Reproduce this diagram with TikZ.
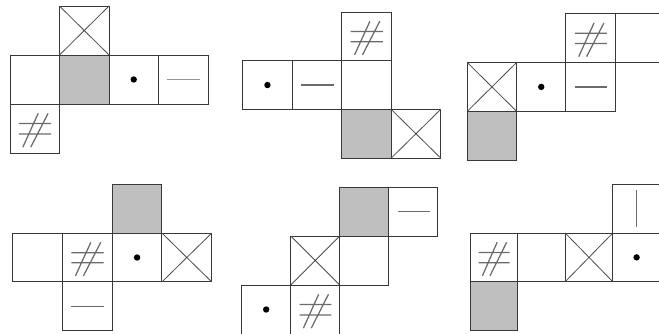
\documentclass[tikz,border=0pt]{standalone}
\begin{document}
\begin{tikzpicture}[x=1pt,y=-1pt,
  cellbox/.style={draw=black!78,line width=1pt,inner sep=0pt,outer sep=0pt,anchor=north west},
  grayface/.style={cellbox,fill=black!25},
  crossline/.style={draw=black!70,line width=0.8pt},
  markline/.style={draw=black!58,line width=1.25pt},
  lightmark/.style={draw=black!42,line width=1.25pt}]
\useasboundingbox (0,0) rectangle (659,333);
\newcommand\cellat[3]{\node[cellbox] (#1) at (#2,#3) {};}
\newcommand\grayat[3]{\node[grayface] (#1) at (#2,#3) {};}
\newcommand\crossat[3]{\node[cellbox] (#1) at (#2,#3) {};
  \draw[crossline] (#2,#3) -- (#2+1,#3+1) (#2+1,#3) -- (#2,#3+1);}
\newcommand\dotat[3]{\node[cellbox] (#1) at (#2,#3) {};
  \fill[black] (#2+0.5,#3+0.5) circle[radius=3.2pt];}
\newcommand\dashat[4][markline]{\node[cellbox] (#2) at (#3,#4) {};
  \draw[#1] (#3+0.18,#4+0.5) -- (#3+0.84,#4+0.5);}
\newcommand\vbarat[3]{\node[cellbox] (#1) at (#2,#3) {};
  \draw[markline] (#2+0.5,#3+0.12) -- (#2+0.5,#3+0.87);}
\newcommand\hashat[3]{\node[cellbox] (#1) at (#2,#3) {};
  \draw[markline] (#2+0.18,#3+0.40) -- (#2+0.83,#3+0.40)
                  (#2+0.18,#3+0.61) -- (#2+0.83,#3+0.61)
                  (#2+0.26,#3+0.88) -- (#2+0.57,#3+0.19)
                  (#2+0.42,#3+0.88) -- (#2+0.77,#3+0.19);}
% Figure 1
\begin{scope}[shift={(10,6)},x=49.5pt,y=-49pt,
  every node/.append style={minimum width=49.5pt,minimum height=49pt}]
  \crossat{a1}{1}{0}
  \cellat{a2}{0}{1}
  \grayat{a3}{1}{1}
  \dotat{a4}{2}{1}
  \dashat[lightmark]{a5}{3}{1}
  \hashat{a6}{0}{2}
\end{scope}
% Figure 2
\begin{scope}[shift={(242.7,12)},x=49.5pt,y=-48.7pt,
  every node/.append style={minimum width=49.5pt,minimum height=48.7pt}]
  \hashat{b1}{2}{0}
  \dotat{b2}{0}{1}
  \dashat{b3}{1}{1}
  \cellat{b4}{2}{1}
  \grayat{b5}{2}{2}
  \crossat{b6}{3}{2}
\end{scope}
% Figure 3
\begin{scope}[shift={(467.3,13.7)},x=49.3pt,y=-48.8pt,
  every node/.append style={minimum width=49.3pt,minimum height=48.8pt}]
  \hashat{c1}{2}{0}
  \cellat{c2}{3}{0}
  \crossat{c3}{0}{1}
  \dotat{c4}{1}{1}
  \dashat{c5}{2}{1}
  \grayat{c6}{0}{2}
\end{scope}
% Figure 4
\begin{scope}[shift={(12.7,184.3)},x=49.75pt,y=-48.8pt,
  every node/.append style={minimum width=49.75pt,minimum height=48.8pt}]
  \grayat{d1}{2}{0}
  \cellat{d2}{0}{1}
  \hashat{d3}{1}{1}
  \dotat{d4}{2}{1}
  \crossat{d5}{3}{1}
  \dashat{d6}{1}{2}
\end{scope}
% Figure 5
\begin{scope}[shift={(241.7,187)},x=49pt,y=-49pt,
  every node/.append style={minimum width=49pt,minimum height=49pt}]
  \grayat{e1}{2}{0}
  \dashat{e2}{3}{0}
  \crossat{e3}{1}{1}
  \cellat{e4}{2}{1}
  \dotat{e5}{0}{2}
  \hashat{e6}{1}{2}
\end{scope}
% Figure 6
\begin{scope}[shift={(470,184.3)},x=47.6pt,y=-48.7pt,
  every node/.append style={minimum width=47.6pt,minimum height=48.7pt}]
  \vbarat{f1}{3}{0}
  \hashat{f2}{0}{1}
  \cellat{f3}{1}{1}
  \crossat{f4}{2}{1}
  \dotat{f5}{3}{1}
  \grayat{f6}{0}{2}
\end{scope}
\end{tikzpicture}
\end{document}
